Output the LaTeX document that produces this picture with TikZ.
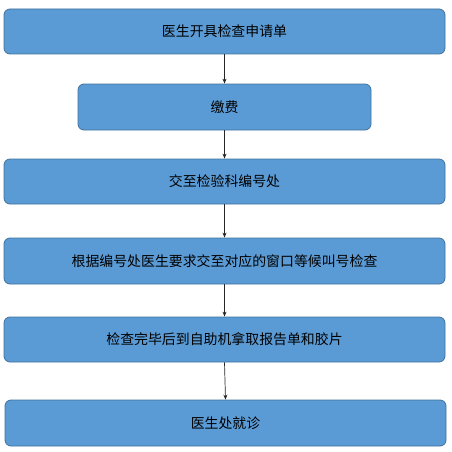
\documentclass[tikz,border=0pt]{standalone}
\usepackage{fontspec}
\newfontfamily\cjk{Noto Sans CJK SC}
\usetikzlibrary{arrows.meta}
\definecolor{boxfill}{HTML}{5B9BD5}
\definecolor{boxdraw}{HTML}{41719C}
\tikzset{
  stepbox/.style={draw=boxdraw, line width=0.8pt, fill=boxfill, rounded corners=6pt, inner sep=0pt, font=\cjk\fontsize{13.9}{16}\selectfont, text=black},
  conn/.style={draw=black!85, line width=0.7pt, -{Stealth[length=5pt,width=4pt]}}
}
\begin{document}
\begin{tikzpicture}[x=1pt,y=-1pt]
\useasboundingbox (0,0) rectangle (451,452);
\node[stepbox, minimum width=441pt, minimum height=45pt] (a) at (224.5,31.5) {医生开具检查申请单};
\node[stepbox, minimum width=293pt, minimum height=46pt] (b) at (224.5,107) {缴费};
\node[stepbox, minimum width=441pt, minimum height=45pt] (c) at (224.5,181.5) {交至检验科编号处};
\node[stepbox, minimum width=441pt, minimum height=46pt] (d) at (224.5,261) {根据编号处医生要求交至对应的窗口等候叫号检查};
\node[stepbox, minimum width=441pt, minimum height=45pt] (e) at (224.5,339.5) {检查完毕后到自助机拿取报告单和胶片};
\node[stepbox, minimum width=441pt, minimum height=46pt] (f) at (225.5,423) {医生处就诊};
\draw[conn] (a.south) -- (b.north);
\draw[conn] (b.south) -- (c.north);
\draw[conn] (c.south) -- (d.north);
\draw[conn] (d.south) -- (e.north);
\draw[conn] (e.south) -- (f.north);
\end{tikzpicture}
\end{document}
